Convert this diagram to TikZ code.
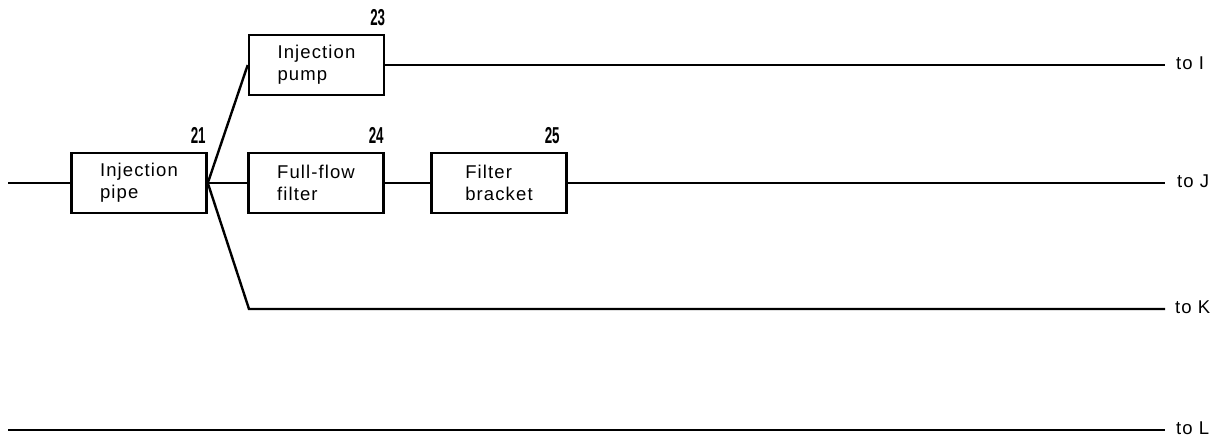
\documentclass[tikz,border=0pt]{standalone}
\usepackage{fontspec}
\setmainfont{Liberation Sans}[LetterSpace=6]
\newfontfamily\numfont{Liberation Sans}[Scale=1]
\usetikzlibrary{calc}
\tikzset{
  unitbox/.style={draw, line width=2.6pt, minimum width=135pt, minimum height=60pt,
    inner sep=0pt, align=left, font=\fontsize{18.5}{22}\selectfont},
  num/.style={inner sep=0pt, anchor=south east},
  endlabel/.style={inner sep=0pt, anchor=base west, font=\fontsize{18.5}{22}\selectfont},
  pipeline/.style={line width=2.4pt}
}
\newcommand{\refnum}[1]{\scalebox{0.58}[1]{\fontsize{23}{23}\selectfont\numfont\bfseries #1}}
\begin{document}
\begin{tikzpicture}[x=1pt,y=-1pt]
\useasboundingbox (0,0) rectangle (1226,439);
% boxes
\node[unitbox] (pipe) at (139,183) {Injection\\pipe};
\node[unitbox] (pump) at (316.5,65) {Injection\\pump};
\node[unitbox] (ffilter) at (316,183) {Full-flow\\filter};
\node[unitbox] (bracket) at (499,183) {Filter\\bracket};
% reference numbers
\node[num] (n21) at ([xshift=-2pt,yshift=8pt]pipe.north east) {\refnum{21}};
\node[num] (n23) at ([xshift=0pt,yshift=8pt]pump.north east) {\refnum{23}};
\node[num] (n24) at ([xshift=-1pt,yshift=8pt]ffilter.north east) {\refnum{24}};
\node[num] (n25) at ([xshift=-8pt,yshift=8pt]bracket.north east) {\refnum{25}};
% end labels
\node[endlabel] (toI) at (1176,69) {to I};
\node[endlabel] (toJ) at (1177,187) {to J};
\node[endlabel] (toK) at (1175,313) {to K};
\node[endlabel] (toL) at (1176,434) {to L};
% coordinates
\coordinate (inL) at (8,183);
\coordinate (startL) at (8,430);
\coordinate (eI) at (1165,65);
\coordinate (eJ) at (1165,183);
\coordinate (eK) at (1165,309);
\coordinate (eL) at (1165,430);
\coordinate (kb) at (249,309);
% connectors
\draw[pipeline] (inL) -- (pipe.west);
\draw[pipeline] (pipe.east) -- (pump.west);
\draw[pipeline] (pipe.east) -- (ffilter.west);
\draw[pipeline] (pipe.east) -- (kb) -- (eK);
\draw[pipeline] (ffilter.east) -- (bracket.west);
\draw[pipeline] (bracket.east) -- (eJ);
\draw[pipeline] (pump.east) -- (eI);
\draw[pipeline] (startL) -- (eL);
\end{tikzpicture}
\end{document}
